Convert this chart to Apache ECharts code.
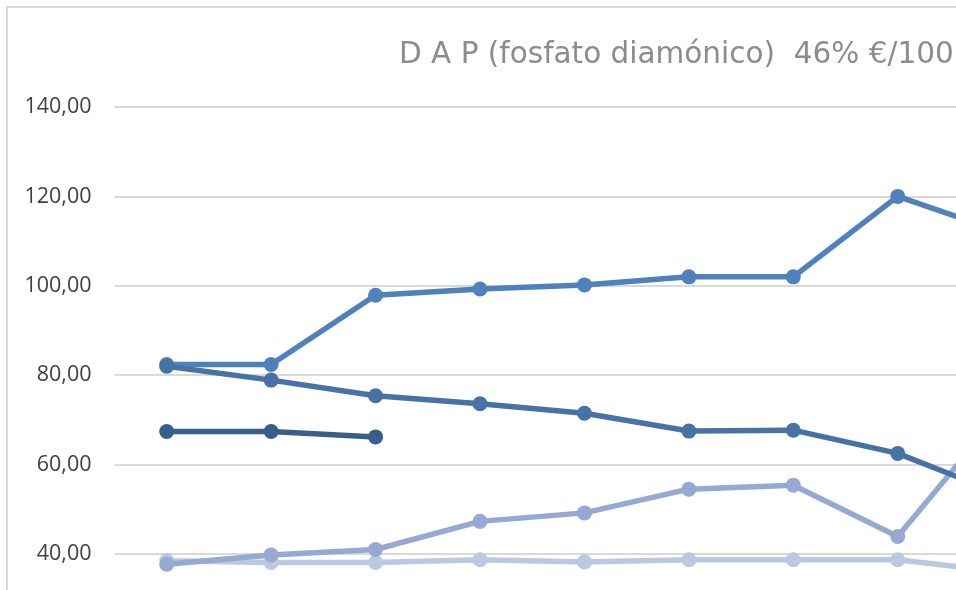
<!DOCTYPE html>
<html>
<head>
<meta charset="utf-8">
<script src="https://cdn.jsdelivr.net/npm/echarts@6/dist/echarts.min.js"></script>
<style>html,body{margin:0;padding:0;background:#fff;}#c{width:956px;height:590px;}</style>
</head>
<body>
<div id="c"></div>
<script>
var titleText = "D A P (fosfato diamónico)  46% €/100 kg";
var categories = ["ene", "feb", "mar", "abr", "may", "jun", "jul", "ago", "sep"];
var yTickLabels = ["0,00", "20,00", "40,00", "60,00", "80,00", "100,00", "120,00", "140,00"];
var seriesNames = ["2019", "2020", "2021", "2022", "2023"];
var valuesE = [38.5, 38.1, 38.1, 38.7, 38.2, 38.7, 38.7, 38.7, 36.0];
var valuesD = [37.7, 39.8, 41.0, 47.3, 49.2, 54.5, 55.4, 43.9, 72.0];
var valuesA = [82.4, 82.4, 97.9, 99.3, 100.2, 102.0, 102.0, 120.0, 112.0];
var valuesB = [82.0, 78.9, 75.4, 73.6, 71.5, 67.5, 67.7, 62.5, 53.3];
var valuesC = [67.4, 67.4, 66.2];

var colors = ["#bac8e2", "#95a9d3", "#4f81bd", "#4672a6", "#3a5e8c"];
var allValues = [valuesE, valuesD, valuesA, valuesB, valuesC];

var chart = echarts.init(document.getElementById('c'), null, {renderer: 'canvas'});
var series = allValues.map(function (vals, i) {
  return {
    name: seriesNames[i],
    type: 'line',
    data: vals,
    symbol: 'circle',
    symbolSize: 15,
    showSymbol: true,
    lineStyle: {width: 5.5, color: colors[i]},
    itemStyle: {color: colors[i], borderWidth: 0},
    z: 2 + i,
    animation: false
  };
});

chart.setOption({
  animation: false,
  backgroundColor: '#ffffff',
  title: {
    text: titleText,
    left: 394,
    top: 35,
    textStyle: {fontFamily: 'DejaVu Sans', fontSize: 29.5, fontWeight: 'normal', color: '#8c8c8c'}
  },
  graphic: [{
    type: 'rect',
    silent: true,
    shape: {x: 7, y: 7, width: 1600, height: 1600},
    style: {fill: 'none', stroke: '#d9d9d9', lineWidth: 2}
  }],
  grid: {
    left: 114.5,
    right: -98.4,
    top: 107,
    bottom: -142.8,
    containLabel: false,
    outerBoundsMode: 'none'
  },
  xAxis: {
    type: 'category',
    data: categories,
    boundaryGap: true,
    axisLine: {show: true, lineStyle: {color: '#d9d9d9', width: 2}},
    axisTick: {show: false},
    axisLabel: {fontFamily: 'Open Sans', fontSize: 21, color: '#404040'},
    splitLine: {show: false}
  },
  yAxis: {
    type: 'value',
    min: 0,
    max: 140,
    interval: 20,
    axisLine: {show: false},
    axisTick: {show: false},
    axisLabel: {
      margin: 23,
      fontFamily: 'Open Sans',
      fontSize: 21.5,
      color: '#404040',
      formatter: function (v) { return yTickLabels[Math.round(v / 20)]; }
    },
    splitLine: {show: true, lineStyle: {color: '#d9d9d9', width: 2}}
  },
  series: series
});
</script>
</body>
</html>
